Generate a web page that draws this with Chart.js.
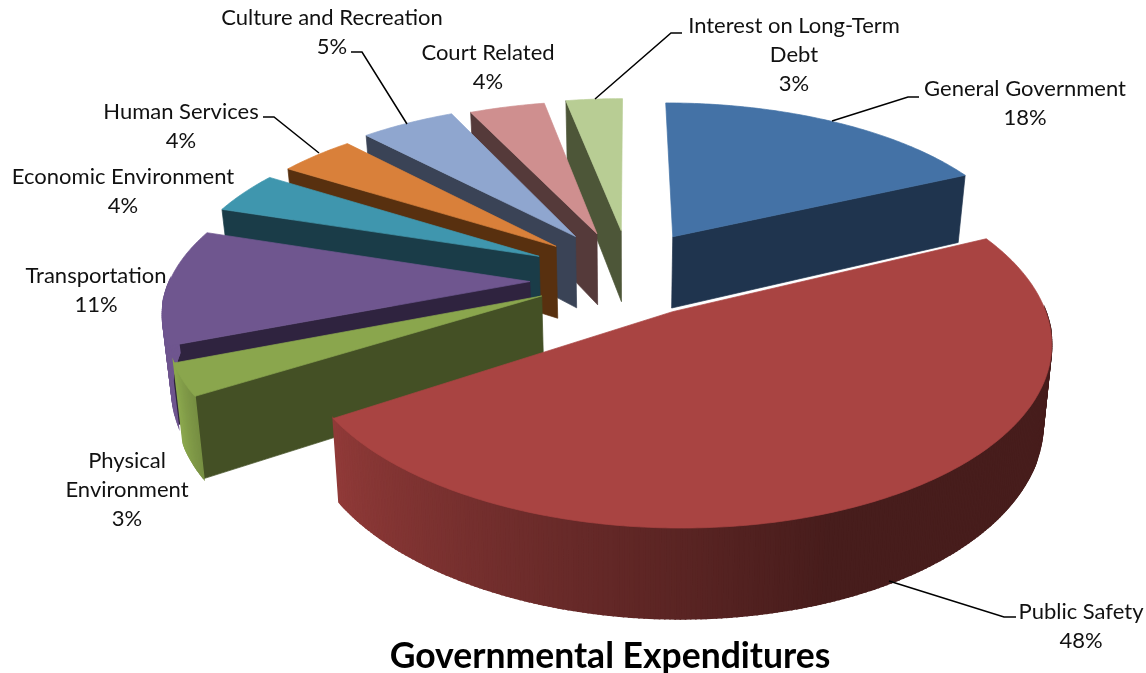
<!DOCTYPE html>
<html><head><meta charset="utf-8">
<style>html,body{margin:0;padding:0;background:#fff}canvas{display:block}</style>
<script src="https://cdn.jsdelivr.net/npm/chart.js@4"></script>
</head><body><canvas id="c" width="1146" height="673"></canvas>
<script>
const categories = ['General Government','Public Safety','Physical Environment','Transportation','Economic Environment','Human Services','Culture and Recreation','Court Related','Interest on Long-Term Debt'];
const values = [18,48,3,11,4,4,5,4,3];
const topColors = ['#4472a6','#a94442','#8aa64d','#6f568f','#3f96ae','#d9803a','#8fa6cf','#cf8f8f','#b8cd94'];
const sideColors = ['#1f344e','#4a1c1a','#445025','#2f233f','#1a3c48','#58300f','#3a4356','#553a3a','#4d5638'];
const explode = [30,27,30,30,30,30,30,30,30];
const nudge = [[1,5,1],[8,-2,1.03],[24,1,1],[22,8,1],[19,5,1],[21,5,1],[18,4,1],[13,7,1],[15,6,1]];
const labelLines = [['General Government','18%'],['Public Safety','48%'],['Physical','Environment','3%'],['Transportation','11%'],['Economic Environment','4%'],['Human Services','4%'],['Culture and Recreation','5%'],['Court Related','4%'],['Interest on Long-Term','Debt','3%']];
const labelPos = [[1025,89],[1081,612],[127,461],[96,276],[123,177],[181,112],[332,18],[488,53],[794,26]];
const leaders = [[[919,97],[908,97],[832,121]],[[1016,617],[1004,617],[889,581]],null,null,null,[[263,117],[274,117],[319,153]],[[351,52],[362,52],[407,124]],null,[[682,33],[671,33],[595,99]]];
const view = {cx:616,cy:272,rx:360,ry:165,k:0.15,h:74,shrink:0.98};

function shade(hex,f){const n=parseInt(hex.slice(1),16);const c=[n>>16,(n>>8)&255,n&255].map(v=>Math.round(Math.min(255,v*f)));return `rgb(${c[0]},${c[1]},${c[2]})`;}
function project(u,v,low,nd){const w=1-view.k*v;const s=low?view.shrink:1;
  return [view.cx+nd[0]+view.rx*u/w*s, view.cy+nd[1]+view.ry*nd[2]*v/w+(low?view.h/w:0)];}
function poly(ctx,pts,fill,lw){ctx.beginPath();pts.forEach((p,i)=>i?ctx.lineTo(p[0],p[1]):ctx.moveTo(p[0],p[1]));ctx.closePath();ctx.fillStyle=fill;ctx.strokeStyle=fill;ctx.lineWidth=lw||0.7;ctx.fill();ctx.stroke();}
function litFactor(t){const d=t*180/Math.PI;if(d<160)return 0.42;if(d<237)return 0.42+(d-160)/77*0.43;return Math.min(1,0.85+(d-237)/11*0.15);}

const pie3d={id:'pie3d',
 beforeDatasetsDraw(chart){
  const ctx=chart.ctx,meta=chart.getDatasetMeta(0);
  const items=meta.data.map((el,i)=>{
    const a=el.startAngle+Math.PI/2,b=el.endAngle+Math.PI/2,m=(a+b)/2,e=el.options.offset/100;
    return {i,a,b,ou:e*Math.sin(m),ov:-e*Math.cos(m)};
  }).sort((p,q)=>p.ov-q.ov);
  for(const s of items){
    const nd=nudge[s.i],pt=(t,low)=>project(s.ou+Math.sin(t),s.ov-Math.cos(t),low,nd),ap=low=>project(s.ou,s.ov,low,nd);
    if(-Math.cos(s.a-Math.PI/2)>0) poly(ctx,[ap(0),pt(s.a,0),pt(s.a,1),ap(1)],sideColors[s.i]);
    if(-Math.cos(s.b+Math.PI/2)>0) poly(ctx,[ap(0),pt(s.b,0),pt(s.b,1),ap(1)],sideColors[s.i]);
    const n=Math.max(6,Math.ceil((s.b-s.a)/0.012));
    for(let j=0;j<n;j++){const t0=s.a+(s.b-s.a)*j/n,t1=s.a+(s.b-s.a)*(j+1)/n,tm=(t0+t1)/2;
      if(-Math.cos(tm)<-0.02)continue;
      poly(ctx,[pt(t0,0),pt(t1,0),pt(t1,1),pt(t0,1)],shade(topColors[s.i],litFactor(tm)),1.6);}
    const top=[ap(0)];for(let j=0;j<=n;j++)top.push(pt(s.a+(s.b-s.a)*j/n,0));
    poly(ctx,top,topColors[s.i]);
  }
  return false;
 },
 afterDraw(chart){
  const ctx=chart.ctx;ctx.save();
  ctx.strokeStyle='#000';ctx.lineWidth=1.5;
  leaders.forEach(l=>{if(!l)return;ctx.beginPath();l.forEach((p,i)=>i?ctx.lineTo(p[0],p[1]):ctx.moveTo(p[0],p[1]));ctx.stroke();});
  ctx.fillStyle='#111';ctx.font='22px Lato';ctx.textAlign='center';ctx.textBaseline='middle';
  labelLines.forEach((ls,i)=>ls.forEach((t,j)=>ctx.fillText(t,labelPos[i][0],labelPos[i][1]+j*29)));
  ctx.restore();
 }};

new Chart(document.getElementById('c'),{type:'pie',
 data:{labels:categories,datasets:[{data:values,backgroundColor:topColors,offset:explode,borderWidth:0}]},
 options:{responsive:false,animation:false,rotation:0,
  layout:{padding:{left:74,bottom:0}},
  plugins:{legend:{display:false},tooltip:{enabled:false},
   title:{display:true,position:'bottom',text:'Governmental Expenditures',color:'#000',font:{family:'Lato',size:35.5,weight:'bold'},padding:{top:0,bottom:-5}}}},
 plugins:[pie3d]});
</script></body></html>
